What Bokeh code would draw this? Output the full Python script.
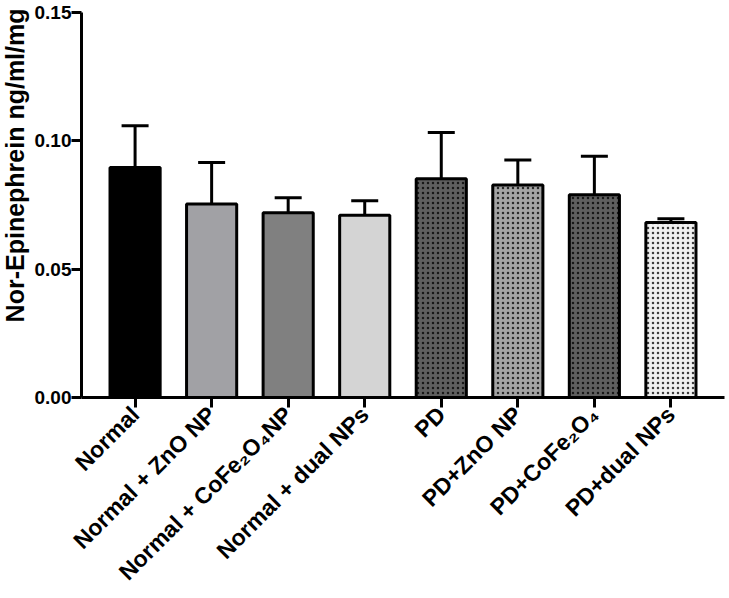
import math
from bokeh.plotting import figure
from bokeh.models import (ColumnDataSource, FactorRange, Range1d, FixedTicker, PrintfTickFormatter,
                          Whisker, TeeHead, Title)
from bokeh.embed import file_html
from bokeh.resources import INLINE

categories = ["Normal", "Normal + ZnO NP", "Normal + CoFe\u2082O\u2084NP", "Normal + dual NPs",
              "PD", "PD+ZnO NP", "PD+CoFe\u2082O\u2084", "PD+dual NPs"]
means = [0.0896, 0.0754, 0.0720, 0.0710, 0.0852, 0.0828, 0.0790, 0.0682]
sems = [0.0163, 0.0162, 0.0058, 0.0057, 0.0180, 0.0097, 0.0150, 0.0014]
fills = ["#000000", "#a1a1a5", "#808080", "#d4d4d4", "#5f5f5f", "#a4a4a4", "#5f5f5f", "#f0f0f0"]
hatches = [" ", " ", " ", " ", ".", ".", ".", "."]
y_ticks = [0.0, 0.05, 0.10, 0.15]
y_title = "Nor-Epinephrein ng/ml/mg"

src = ColumnDataSource(dict(
    cat=categories, mean=means,
    upper=[m + s for m, s in zip(means, sems)],
    lower=[m - s for m, s in zip(means, sems)],
    fill=fills, hatch=hatches,
))

FONT = "Liberation Sans"

p = figure(frame_width=643, frame_height=385, output_backend="svg", toolbar_location=None,
           x_range=FactorRange(factors=categories, range_padding=0.2, range_padding_units="absolute"),
           y_range=Range1d(0, 0.15),
           min_border_top=12, min_border_right=2, min_border_left=70, min_border_bottom=190)

p.vbar(x="cat", top="mean", width=0.655, source=src, fill_color="fill",
       line_color="black", line_width=3, hatch_pattern="hatch", hatch_color="black",
       hatch_scale=5, hatch_weight=1.0, hatch_alpha=0.75)

w = Whisker(base="cat", upper="upper", lower="lower", source=src,
            line_color="black", line_width=3,
            upper_head=TeeHead(size=27, line_width=3, line_color="black"),
            lower_head=TeeHead(size=27, line_width=3, line_color="black"))
p.add_layout(w)

p.add_layout(Title(text=y_title, align="right", offset=-4, standoff=1, vertical_align="top",
                   text_font=FONT, text_font_style="bold", text_font_size="25px",
                   text_color="black"), "left")

p.grid.visible = False
p.outline_line_color = None

for ax in (p.xaxis, p.yaxis):
    ax.axis_line_width = 3
    ax.axis_line_color = "black"
    ax.major_tick_line_width = 3
    ax.major_tick_line_color = "black"
    ax.major_tick_out = 10
    ax.major_tick_in = 0
    ax.minor_tick_line_color = None
    ax.major_label_text_font = FONT
    ax.major_label_text_font_style = "bold"
    ax.major_label_text_color = "black"

p.yaxis.ticker = FixedTicker(ticks=y_ticks)
p.yaxis.formatter = PrintfTickFormatter(format="%.2f")
p.yaxis.major_label_text_font_size = "19px"
p.yaxis.major_label_standoff = 0

p.xaxis.major_label_orientation = math.pi / 4
p.xaxis.major_label_text_font_size = "23px"
p.xaxis.major_label_standoff = 3

open("out.html", "w").write(file_html(p, INLINE))
